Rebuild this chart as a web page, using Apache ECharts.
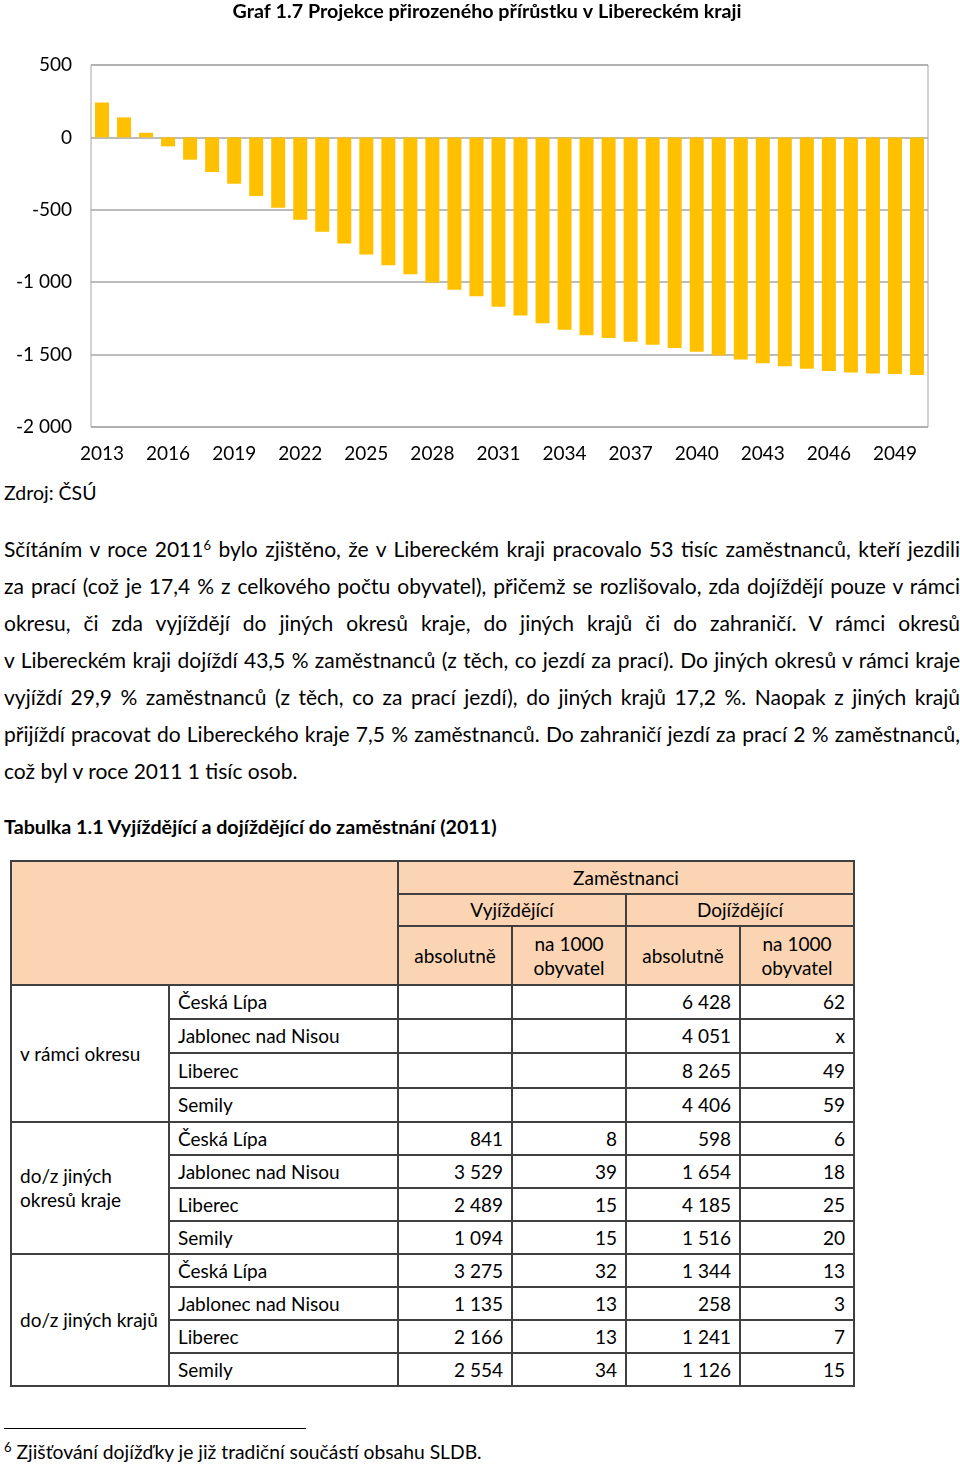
<!DOCTYPE html>
<html>
<head>
<meta charset="utf-8">
<script src="https://cdn.jsdelivr.net/npm/echarts@6/dist/echarts.min.js"></script>
<style>
  html, body { margin: 0; padding: 0; background: #fff; }
  body { width: 960px; height: 1466px; position: relative; overflow: hidden; font-family: Lato, "Liberation Sans", sans-serif; color: #000; }
  #chart { position: absolute; left: 0; top: 0; width: 960px; height: 480px; }
  .abs { position: absolute; white-space: nowrap; }
  .jl { position: absolute; left: 4px; width: 956px; font-size: 21px; line-height: 24px; white-space: nowrap; }
  .jl span { display: inline-block; white-space: nowrap; }
  sup { font-size: 13px; vertical-align: 7px; line-height: 0; }
  table { position: absolute; left: 10px; top: 860px; border-collapse: collapse; table-layout: fixed; font-size: 19px; }
  td { border: 2px solid #404040; padding: 0 8px; overflow: hidden; white-space: nowrap; line-height: 24px; }
  td.h { background: #FBD4B4; text-align: center; }
  td.n { text-align: right; }
</style>
</head>
<body>
<div id="chart"></div>
<div class="abs" style="left:4px; top:481px; font-size:19.5px;">Zdroj: ČSÚ</div>

<div class="jl" style="top:537px;"><span>Sčítáním v roce 2011<sup>6</sup> bylo zjištěno, že v Libereckém kraji pracovalo 53 tisíc zaměstnanců, kteří jezdili</span></div>
<div class="jl" style="top:574px;"><span>za prací (což je 17,4 % z celkového počtu obyvatel), přičemž se rozlišovalo, zda dojíždějí pouze v rámci</span></div>
<div class="jl" style="top:611px;"><span>okresu, či zda vyjíždějí do jiných okresů kraje, do jiných krajů či do zahraničí. V rámci okresů</span></div>
<div class="jl" style="top:648px;"><span>v Libereckém kraji dojíždí 43,5 % zaměstnanců (z těch, co jezdí za prací). Do jiných okresů v rámci kraje</span></div>
<div class="jl" style="top:685px;"><span>vyjíždí 29,9 % zaměstnanců (z těch, co za prací jezdí), do jiných krajů 17,2 %. Naopak z jiných krajů</span></div>
<div class="jl" style="top:722px;"><span>přijíždí pracovat do Libereckého kraje 7,5 % zaměstnanců. Do zahraničí jezdí za prací 2 % zaměstnanců,</span></div>
<div class="jl last" style="top:759px;"><span>což byl v roce 2011 1 tisíc osob.</span></div>

<div class="abs" style="left:4px; top:815px; font-size:19.7px; font-weight:bold;">Tabulka 1.1 Vyjíždějící a dojíždějící do zaměstnání (2011)</div>

<table id="tbl">
  <colgroup><col style="width:158px"><col style="width:229px"><col style="width:114px"><col style="width:114px"><col style="width:114px"><col style="width:114px"></colgroup>
  <tbody id="tb"></tbody>
</table>

<div class="abs" style="left:4px; top:1428px; width:302px; height:0; border-top:1px solid #000;"></div>
<div class="abs" style="left:4px; top:1440px; font-size:19.3px;"><sup>6</sup> Zjišťování dojížďky je již tradiční součástí obsahu SLDB.</div>

<script>
// ---- chart data ----
const years = ['2013','2014','2015','2016','2017','2018','2019','2020','2021','2022','2023','2024','2025','2026','2027','2028','2029','2030','2031','2032','2033','2034','2035','2036','2037','2038','2039','2040','2041','2042','2043','2044','2045','2046','2047','2048','2049','2050'];
const naturalIncrease = [241, 138, 32, -62, -154, -239, -320, -405, -485, -568, -651, -733, -809, -883, -945, -1002, -1053, -1097, -1170, -1230, -1283, -1329, -1366, -1386, -1411, -1432, -1455, -1480, -1506, -1533, -1559, -1581, -1597, -1614, -1623, -1630, -1634, -1641];
const yTicks = [-2000, -1500, -1000, -500, 0, 500];

// ---- table data ----
const groups = ['v rámci okresu', 'do/z jiných<br>okresů kraje', 'do/z jiných krajů'];
const districts = ['Česká Lípa', 'Jablonec nad Nisou', 'Liberec', 'Semily'];
const outAbs = [null, null, null, null, 841, 3529, 2489, 1094, 3275, 1135, 2166, 2554];
const outPer1000 = [null, null, null, null, 8, 39, 15, 15, 32, 13, 13, 34];
const inAbs = [6428, 4051, 8265, 4406, 598, 1654, 4185, 1516, 1344, 258, 1241, 1126];
const inPer1000 = [62, 'x', 49, 59, 6, 18, 25, 20, 13, 3, 7, 15];

function fmt(v) {
  if (v === null || v === undefined) return '';
  if (typeof v === 'string') return v;
  const s = String(Math.abs(v)).replace(/\B(?=(\d{3})+(?!\d))/g, ' ');
  return (v < 0 ? '-' : '') + s;
}

const chart = echarts.init(document.getElementById('chart'), null, { renderer: 'canvas' });
chart.setOption({
  animation: false,
  title: {
    text: 'Graf 1.7 Projekce přirozeného přírůstku v Libereckém kraji',
    left: 482, textAlign: 'center', top: -3,
    textStyle: { fontFamily: 'Lato', fontSize: 19.7, fontWeight: 'bold', color: '#000' }
  },
  grid: { left: 91, right: 32, top: 65, bottom: 53, show: true, borderColor: '#a6a6a6', borderWidth: 1, containLabel: false },
  xAxis: {
    type: 'category', data: years, boundaryGap: true,
    axisLine: { show: false }, axisTick: { show: false },
    axisLabel: { interval: 2, margin: 17, fontFamily: 'Lato', fontSize: 19, color: '#000' },
    splitLine: { show: false }
  },
  yAxis: {
    type: 'value', min: yTicks[0], max: yTicks[yTicks.length - 1], interval: 500,
    axisLine: { show: false }, axisTick: { show: false },
    axisLabel: { margin: 19, fontFamily: 'Lato', fontSize: 19, color: '#000', formatter: fmt },
    splitLine: { show: true, lineStyle: { color: '#a6a6a6', width: 1.5 } }
  },
  series: [{
    type: 'bar', data: naturalIncrease, barWidth: 14,
    itemStyle: { color: '#FFC000' }
  }]
});

// ---- build table ----
const tb = document.getElementById('tb');
let html = '';
html += '<tr style="height:33px"><td class="h" colspan="2" rowspan="3"></td><td class="h" colspan="4">Zaměstnanci</td></tr>';
html += '<tr style="height:32px"><td class="h" colspan="2">Vyjíždějící</td><td class="h" colspan="2">Dojíždějící</td></tr>';
html += '<tr style="height:59px"><td class="h">absolutně</td><td class="h">na 1000<br>obyvatel</td><td class="h">absolutně</td><td class="h">na 1000<br>obyvatel</td></tr>';
const rowH = [34, 34, 35, 34, 33, 33, 33, 33, 33, 33, 33, 33];
for (let i = 0; i < 12; i++) {
  const g = Math.floor(i / 4), d = i % 4;
  html += '<tr style="height:' + rowH[i] + 'px">';
  if (d === 0) html += '<td rowspan="4">' + groups[g] + '</td>';
  html += '<td>' + districts[d] + '</td>';
  html += '<td class="n">' + fmt(outAbs[i]) + '</td>';
  html += '<td class="n">' + fmt(outPer1000[i]) + '</td>';
  html += '<td class="n">' + fmt(inAbs[i]) + '</td>';
  html += '<td class="n">' + fmt(inPer1000[i]) + '</td>';
  html += '</tr>';
}
tb.innerHTML = html;

// ---- justify paragraph lines ----
document.querySelectorAll('.jl').forEach(el => {
  if (el.classList.contains('last')) return;
  const sp = el.querySelector('span');
  sp.style.wordSpacing = '0px';
  const w = sp.getBoundingClientRect().width;
  const n = (sp.textContent.match(/ /g) || []).length;
  if (n > 0) sp.style.wordSpacing = ((956 - w) / n) + 'px';
});
</script>
</body>
</html>
